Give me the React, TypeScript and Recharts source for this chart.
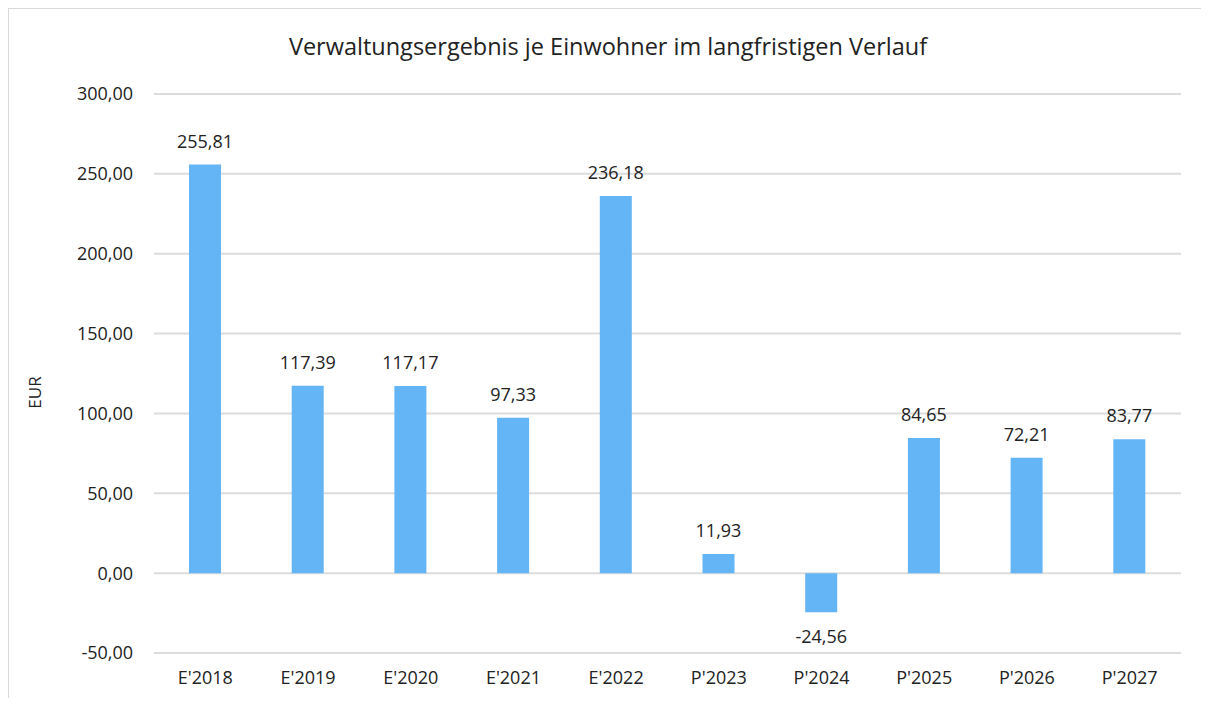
import React from 'react';
import { BarChart, Bar, XAxis, YAxis, CartesianGrid, LabelList } from 'recharts';

const categories = ["E'2018", "E'2019", "E'2020", "E'2021", "E'2022", "P'2023", "P'2024", "P'2025", "P'2026", "P'2027"];
const values = [255.81, 117.39, 117.17, 97.33, 236.18, 11.93, -24.56, 84.65, 72.21, 83.77];
const yTicks = [-50, 0, 50, 100, 150, 200, 250, 300];

const data = categories.map((name, i) => ({ name, value: values[i] }));

const FONT = '"Open Sans", sans-serif';
const fmt = (v: number) => v.toFixed(2).replace('.', ',');

const ValueLabel = (props: any) => {
    const { x, y, width, height, value } = props;
    const neg = value < 0;
    const cx = x + width / 2;
    // height is negative for negative bars in recharts
    const top = Math.min(y, y + height);
    const bottom = Math.max(y, y + height);
    const ty = neg ? bottom + 24 : top - 24;
    return (
        <text x={cx} y={ty} textAnchor="middle" dominantBaseline="central" fontSize={18} fontFamily={FONT} fill="#222">
            {fmt(value)}
        </text>
    );
};

export default function App() {
    return (
        <div style={{ position: 'relative', width: 1193, height: 690, overflow: 'hidden', borderLeft: '1px solid #d9d9d9', borderTop: '1px solid #d9d9d9', boxSizing: 'border-box', background: '#fff' }}>
            <div style={{ position: 'absolute', top: 21, left: 0, width: 1198, textAlign: 'center', fontFamily: FONT, fontSize: 23.5, color: '#222' }}>
                Verwaltungsergebnis je Einwohner im langfristigen Verlauf
            </div>
            <div style={{ position: 'absolute', left: 7, top: 372, transform: 'rotate(-90deg)', transformOrigin: 'center', fontFamily: FONT, fontSize: 17, color: '#222', width: 36, textAlign: 'center' }}>
                EUR
            </div>
            <BarChart width={1200} height={698} data={data} margin={{ top: 85, right: 28, left: 65, bottom: 24 }} barSize={32}>
                <CartesianGrid vertical={false} stroke="#dcdcdc" strokeWidth={2} />
                <XAxis
                    dataKey="name"
                    axisLine={false}
                    tickLine={false}
                    tickSize={0}
                    tickMargin={18}
                    height={30}
                    interval={0}
                    tick={{ fontSize: 18, fontFamily: FONT, fill: '#222' }}
                />
                <YAxis
                    domain={[-50, 300]}
                    ticks={yTicks}
                    axisLine={false}
                    tickLine={false}
                    tickSize={0}
                    tickMargin={21}
                    width={80}
                    tickFormatter={fmt}
                    tick={{ fontSize: 18, fontFamily: FONT, fill: '#222' }}
                />
                <Bar dataKey="value" fill="#64B5F6" isAnimationActive={false}>
                    <LabelList dataKey="value" content={<ValueLabel />} />
                </Bar>
            </BarChart>
        </div>
    );
}
